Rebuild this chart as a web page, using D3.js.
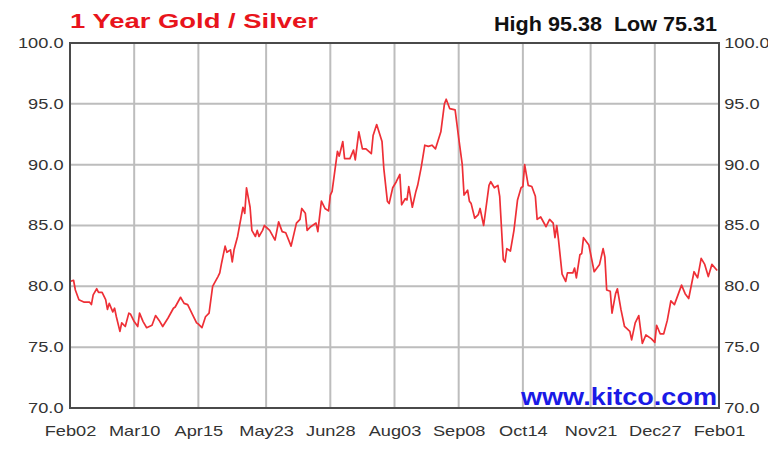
<!DOCTYPE html>
<html>
<head>
<meta charset="utf-8">
<script src="https://cdn.jsdelivr.net/npm/d3@7"></script>
<style>
  body { margin: 0; background: #fff; }
  svg { display: block; }
</style>
</head>
<body>
<svg id="chart" width="768" height="456"></svg>
<script>
// days since Feb 02, and the gold/silver ratio
const days = [0, 2, 3, 5, 8, 11, 12, 13, 15, 16, 18, 20, 21, 22, 24, 25, 26, 28, 29, 31,
  33, 34, 36, 38, 39, 41, 43, 46, 48, 50, 52, 55, 58, 59, 62, 64, 66, 69, 71, 72,
  74, 76, 78, 80, 83, 84, 85, 87, 88, 90, 91, 92, 94, 95, 97, 98, 99, 101, 102, 104,
  105, 106, 108, 109, 112, 115, 117, 119, 121, 124, 127, 129, 130, 132, 133, 135, 138, 139, 141, 143,
  145, 146, 147, 150, 151, 153, 154, 157, 159, 160, 162, 164, 166, 169, 170, 172, 175, 176, 178, 179,
  181, 183, 185, 186, 188, 189, 190, 192, 194, 195, 197, 199, 201, 203, 205, 208, 210, 211, 213, 216,
  218, 220, 221, 223, 224, 225, 227, 229, 230, 232, 235, 236, 238, 240, 241, 243, 244, 245, 247, 249,
  251, 253, 254, 255, 257, 259, 261, 262, 264, 267, 269, 271, 272, 273, 274, 276, 278, 279, 282, 283,
  284, 286, 287, 288, 291, 294, 297, 299, 300, 301, 303, 304, 306, 307, 309, 311, 314, 315, 317, 319,
  321, 323, 326, 328, 329, 331, 333, 335, 337, 339, 341, 343, 345, 347, 350, 352, 354, 356, 358, 360,
  363];
const ratio = [80.4, 80.5, 79.7, 78.9, 78.7, 78.7, 78.5, 79.3, 79.8, 79.5, 79.5, 78.9, 78.1, 78.6, 77.9, 78.2, 77.5, 76.3, 77.0, 76.7,
  77.8, 77.7, 77.1, 76.7, 77.8, 77.1, 76.6, 76.8, 77.6, 77.2, 76.7, 77.4, 78.2, 78.3, 79.1, 78.6, 78.5, 77.6, 77.0, 76.9,
  76.6, 77.5, 77.8, 80.0, 80.8, 81.1, 81.9, 83.3, 82.8, 83.0, 82.0, 83.0, 84.1, 84.9, 86.5, 86.0, 88.1, 86.5, 84.6, 84.1,
  84.6, 84.1, 84.6, 85.0, 84.6, 83.8, 85.3, 84.5, 84.4, 83.3, 85.2, 85.5, 86.4, 86.0, 84.6, 84.9, 85.2, 84.5, 87.0, 86.4,
  86.2, 87.5, 87.8, 91.1, 90.7, 91.9, 90.5, 90.5, 91.2, 90.4, 92.7, 91.3, 91.3, 90.9, 92.4, 93.3, 91.9, 89.7, 87.0, 86.8,
  88.1, 88.6, 89.2, 86.7, 87.2, 87.1, 88.2, 86.5, 87.8, 88.3, 89.8, 91.6, 91.5, 91.6, 91.3, 92.7, 95.0, 95.38, 94.6, 94.5,
  92.2, 90.0, 87.5, 87.9, 87.0, 86.8, 85.6, 85.9, 86.4, 85.0, 88.3, 88.6, 88.1, 88.3, 87.4, 82.2, 82.0, 83.1, 82.9, 84.6,
  87.1, 88.1, 88.2, 90.0, 88.3, 88.2, 87.4, 85.5, 85.7, 84.9, 85.5, 85.2, 84.0, 85.0, 83.8, 81.0, 80.4, 81.1, 81.1, 81.5,
  80.7, 82.6, 82.7, 84.0, 83.4, 81.2, 81.8, 83.1, 82.4, 79.7, 79.6, 77.8, 79.4, 79.8, 78.1, 76.7, 76.3, 75.6, 77.0, 77.6,
  75.31, 76.0, 75.7, 75.4, 76.8, 76.1, 76.1, 77.2, 78.8, 78.5, 79.3, 80.1, 79.4, 79.0, 81.2, 80.7, 82.3, 81.8, 80.8, 81.8,
  81.3];

const tickDates = ["2019-02-02", "2019-03-10", "2019-04-15", "2019-05-23", "2019-06-28", "2019-08-03",
  "2019-09-08", "2019-10-14", "2019-11-21", "2019-12-27", "2020-02-01"];
const yTicks = [70, 75, 80, 85, 90, 95, 100];
const high = 95.38, low = 75.31;

const svg = d3.select("#chart");
const mLeft = 70, mRight = 719, mTop = 43, mBottom = 408;
const font = "'Liberation Sans', Arial, sans-serif";
const stretch = 1.3; // the source picture is widened, text included

const parse = d3.timeParse("%Y-%m-%d");
const ticks = tickDates.map(parse);
const start = ticks[0];

const x = d3.scaleTime().domain([start, ticks[ticks.length - 1]]).range([mLeft, mRight]);
const y = d3.scaleLinear().domain([70, 100]).range([mBottom, mTop]);

const data = days.map((d, i) => ({ date: d3.timeDay.offset(start, d), v: ratio[i] }));

// grid
const grid = svg.append("g");
grid.selectAll("line.v").data(ticks).join("line").attr("class", "v")
  .attr("x1", d => x(d)).attr("x2", d => x(d))
  .attr("y1", mTop).attr("y2", mBottom)
  .attr("stroke", "#bdbdbd").attr("stroke-width", 2);
grid.selectAll("line.h").data(yTicks).join("line").attr("class", "h")
  .attr("x1", mLeft).attr("x2", mRight)
  .attr("y1", d => y(d)).attr("y2", d => y(d))
  .attr("stroke", "#bdbdbd").attr("stroke-width", 2);

// axes, labels only
const yLeft = d3.axisLeft(y).tickValues(yTicks).tickFormat(d3.format(".1f")).tickSize(0).tickPadding(5);
const yRight = d3.axisRight(y).tickValues(yTicks).tickFormat(d3.format(".1f")).tickSize(0).tickPadding(4);
const xAxis = d3.axisBottom(x).tickValues(ticks).tickFormat(d3.timeFormat("%b%d")).tickSize(0).tickPadding(18);

[[yLeft, `translate(${mLeft},0)`], [yRight, `translate(${mRight},0)`], [xAxis, `translate(0,${mBottom})`]]
  .forEach(([ax, tr]) => {
    const g = svg.append("g").attr("transform", tr).call(ax);
    g.select(".domain").remove();
    g.selectAll("text")
      .attr("font-family", font).attr("font-size", 14).attr("fill", "#333")
      .attr("transform", `scale(${stretch},1)`);
  });

// watermark
svg.append("text")
  .attr("x", mRight - 2).attr("y", mBottom - 3)
  .attr("text-anchor", "end")
  .attr("font-family", font).attr("font-weight", "bold").attr("font-size", 24)
  .attr("textLength", 196).attr("lengthAdjust", "spacingAndGlyphs")
  .attr("fill", "#1a1ae6")
  .text("www.kitco.com");

// the ratio line
svg.append("path")
  .datum(data)
  .attr("fill", "none")
  .attr("stroke", "#ee2f36")
  .attr("stroke-width", 1.7)
  .attr("stroke-linejoin", "round")
  .attr("d", d3.line().x(d => x(d.date)).y(d => y(d.v)));

// frame
svg.append("rect")
  .attr("x", mLeft).attr("y", mTop)
  .attr("width", mRight - mLeft).attr("height", mBottom - mTop)
  .attr("fill", "none").attr("stroke", "#4a4a4a").attr("stroke-width", 2);

// titles
svg.append("text")
  .attr("x", mLeft).attr("y", 28)
  .attr("font-family", font).attr("font-weight", "bold").attr("font-size", 20)
  .attr("textLength", 248).attr("lengthAdjust", "spacingAndGlyphs")
  .attr("fill", "#e8141c")
  .text("1 Year Gold / Silver");

svg.append("text")
  .attr("x", mRight - 2).attr("y", 31)
  .attr("text-anchor", "end")
  .attr("font-family", font).attr("font-weight", "bold").attr("font-size", 20)
  .attr("textLength", 223).attr("lengthAdjust", "spacingAndGlyphs")
  .attr("fill", "#111")
  .attr("xml:space", "preserve")
  .text(`High ${high.toFixed(2)}  Low ${low.toFixed(2)}`);
</script>
</body>
</html>
